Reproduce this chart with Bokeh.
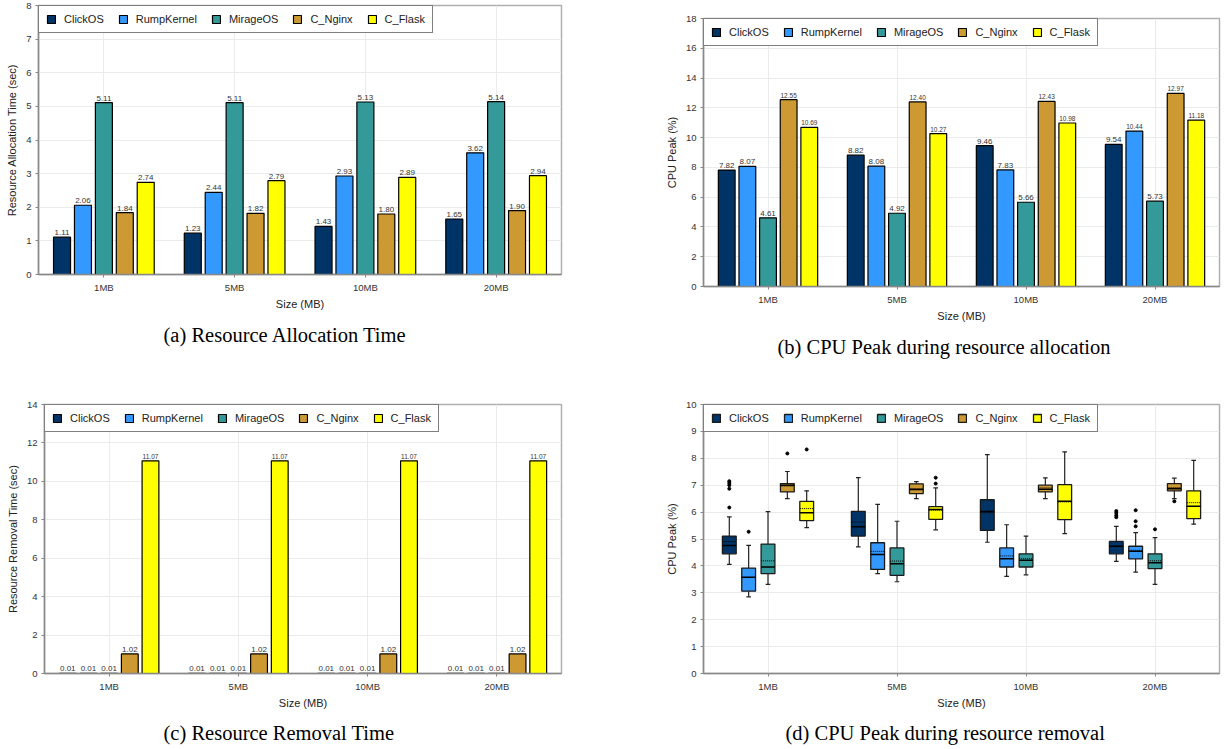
from bokeh.plotting import figure
from bokeh.models import ColumnDataSource, Legend, LegendItem, Title, FixedTicker
from bokeh.transform import dodge
from bokeh.layouts import row, column
from bokeh.embed import file_html
from bokeh.resources import INLINE
from bokeh.core.properties import value

FONT = "Liberation Sans"
SERIF = "Liberation Serif"

sizes = ["1MB", "5MB", "10MB", "20MB"]
systems = ["ClickOS", "RumpKernel", "MirageOS", "C_Nginx", "C_Flask"]
colors = ["#003366", "#3399ff", "#339999", "#cc9933", "#ffff00"]

# (a) Resource allocation time (sec)
alloc_clickos = [1.11, 1.23, 1.43, 1.65]
alloc_rump = [2.06, 2.44, 2.93, 3.62]
alloc_mirage = [5.11, 5.11, 5.13, 5.14]
alloc_nginx = [1.84, 1.82, 1.80, 1.90]
alloc_flask = [2.74, 2.79, 2.89, 2.94]

# (b) CPU peak during resource allocation (%)
cpu_alloc_clickos = [7.82, 8.82, 9.46, 9.54]
cpu_alloc_rump = [8.07, 8.08, 7.83, 10.44]
cpu_alloc_mirage = [4.61, 4.92, 5.66, 5.73]
cpu_alloc_nginx = [12.55, 12.40, 12.43, 12.97]
cpu_alloc_flask = [10.69, 10.27, 10.98, 11.18]

# (c) Resource removal time (sec)
rem_clickos = [0.01, 0.01, 0.01, 0.01]
rem_rump = [0.01, 0.01, 0.01, 0.01]
rem_mirage = [0.01, 0.01, 0.01, 0.01]
rem_nginx = [1.02, 1.02, 1.02, 1.02]
rem_flask = [11.07, 11.07, 11.07, 11.07]

# (d) CPU peak during resource removal (%) - box statistics
# rows: ClickOS, RumpKernel, MirageOS, C_Nginx, C_Flask ; columns: 1MB, 5MB, 10MB, 20MB
box_low = [[4.06, 4.71, 4.88, 4.17], [2.85, 3.71, 3.61, 3.77], [3.31, 3.41, 3.67, 3.31],
           [6.50, 6.50, 6.50, 6.50], [5.42, 5.34, 5.20, 5.55]]
box_q1 = [[4.45, 5.11, 5.32, 4.45], [3.06, 3.87, 3.96, 4.26], [3.71, 3.65, 3.96, 3.90],
          [6.75, 6.69, 6.75, 6.79], [5.68, 5.73, 5.72, 5.76]]
box_med = [[4.76, 5.46, 6.02, 4.73], [3.58, 4.42, 4.27, 4.54], [3.96, 4.08, 4.21, 4.12],
           [7.00, 6.84, 6.85, 6.87], [5.98, 6.10, 6.40, 6.22]]
box_mean = [[4.90, 5.63, 5.98, 4.72], [3.57, 4.54, 4.37, 4.58], [4.19, 4.18, 4.27, 4.19],
            [6.97, 6.87, 6.90, 6.91], [6.13, 6.07, 6.38, 6.35]]
box_q3 = [[5.11, 6.03, 6.46, 4.91], [3.92, 4.86, 4.67, 4.73], [4.81, 4.67, 4.45, 4.45],
          [7.06, 7.05, 7.00, 7.06], [6.40, 6.20, 7.02, 6.79]]
box_high = [[5.82, 7.28, 8.14, 5.47], [4.76, 6.29, 5.53, 5.24], [6.02, 5.66, 5.11, 5.05],
            [7.51, 7.13, 7.27, 7.26], [6.79, 6.90, 8.24, 7.92]]
box_outliers = [
    [[6.17, 6.87, 7.00, 7.08, 7.15], [], [], [5.81, 5.88, 5.97, 6.04]],
    [[5.27], [], [], [5.47, 5.66, 6.07]],
    [[], [], [], [5.36]],
    [[8.18], [], [], [6.40]],
    [[8.33], [7.06, 7.28], [], []],
]

captions = ["(a) Resource Allocation Time", "(b) CPU Peak during resource allocation",
            "(c) Resource Removal Time", "(d) CPU Peak during resource removal"]

STEP = 0.16
OFFS = [(i - 2) * STEP for i in range(5)]


def make_fig(ymax, ystep, ylabel, left, frame_w, top, frame_h, width, height, caption,
             cap_offset, cap_standoff):
    p = figure(x_range=sizes, y_range=(0, ymax), frame_width=frame_w, frame_height=frame_h,
               min_border_left=left, min_border_right=width - left - frame_w,
               min_border_top=top, min_border_bottom=height - top - frame_h,
               title=None, output_backend="svg", toolbar_location=None)
    p.background_fill_color = "white"
    p.border_fill_color = "white"
    p.outline_line_color = "#b0b0b0"
    p.outline_line_width = 1.5
    p.grid.grid_line_color = "#ebebeb"
    p.grid.grid_line_width = 1
    p.yaxis.ticker = FixedTicker(ticks=list(range(0, ymax + 1, ystep)))
    for ax in (p.xaxis[0], p.yaxis[0]):
        ax.axis_line_color = "#888888"
        ax.axis_line_width = 1.5
        ax.major_tick_line_color = "#888888"
        ax.major_tick_out = 3
        ax.major_tick_in = 0
        ax.minor_tick_line_color = None
        ax.major_label_text_font = FONT
        ax.major_label_text_font_size = "9.5px"
        ax.major_label_text_color = "#333333"
        ax.axis_label_text_font = FONT
        ax.axis_label_text_font_size = "11px"
        ax.axis_label_text_font_style = "normal"
        ax.axis_label_text_color = "#222222"
        ax.major_label_standoff = 4
    p.xaxis.axis_label_standoff = 2
    p.yaxis.axis_label_standoff = 5
    p.xaxis.axis_label = "Size (MB)"
    p.yaxis.axis_label = ylabel
    p.add_layout(Title(text=caption, align="left", offset=cap_offset, text_font=SERIF,
                       text_font_size="20.5px", text_font_style="normal", text_color="black",
                       standoff=cap_standoff), "below")
    return p


def add_legend(p, renderers):
    items = [LegendItem(label=s, renderers=[r]) for s, r in zip(systems, renderers)]
    lg = Legend(items=items, location="top_left", orientation="horizontal", margin=0,
                padding=7, spacing=14, label_standoff=8, glyph_width=10, glyph_height=10,
                label_height=11, label_text_font=FONT, label_text_font_size="11px",
                label_text_color="#222222", border_line_color="black", border_line_width=1.5,
                background_fill_color="white", background_fill_alpha=1)
    p.add_layout(lg)


def bar_chart(p, series):
    rends = []
    for i, vals in enumerate(series):
        labels = ["%.2f" % v for v in vals]
        fs = ["6.5px" if v >= 10 else "8px" for v in vals]
        src = ColumnDataSource(dict(size=sizes, val=vals, lbl=labels, fs=fs))
        r = p.vbar(x=dodge("size", OFFS[i], range=p.x_range), top="val", bottom=0, width=0.13,
                   source=src, fill_color=colors[i], line_color="black", line_width=1.2)
        p.text(x=dodge("size", OFFS[i], range=p.x_range), y="val", text="lbl", source=src,
               text_align="center", text_baseline="bottom", y_offset=-2,
               text_font=value(FONT), text_font_size="fs", text_color="#333333")
        rends.append(r)
    add_legend(p, rends)


def box_chart(p):
    rends = []
    bw = 0.107
    cw = 0.018
    step = 0.15
    for i in range(5):
        off = (i - 2) * step
        src = ColumnDataSource(dict(size=sizes, lo=box_low[i], q1=box_q1[i], med=box_med[i],
                                    mean=box_mean[i], q3=box_q3[i], hi=box_high[i]))
        xc = dodge("size", off, range=p.x_range)
        xl = dodge("size", off - bw / 2, range=p.x_range)
        xr = dodge("size", off + bw / 2, range=p.x_range)
        cl = dodge("size", off - cw, range=p.x_range)
        cr = dodge("size", off + cw, range=p.x_range)
        p.segment(x0=xc, y0="q3", x1=xc, y1="hi", source=src, line_color="#222222", line_width=1.2)
        p.segment(x0=xc, y0="q1", x1=xc, y1="lo", source=src, line_color="#222222", line_width=1.2)
        p.segment(x0=cl, y0="hi", x1=cr, y1="hi", source=src, line_color="#222222", line_width=1.2)
        p.segment(x0=cl, y0="lo", x1=cr, y1="lo", source=src, line_color="#222222", line_width=1.2)
        r = p.vbar(x=xc, top="q3", bottom="q1", width=bw, source=src, fill_color=colors[i],
                   line_color="#1a1a1a", line_width=1.3)
        p.segment(x0=xl, y0="med", x1=xr, y1="med", source=src, line_color="black", line_width=1.5)
        p.segment(x0=xl, y0="mean", x1=xr, y1="mean", source=src, line_color="black",
                  line_width=1, line_dash="1 1")
        ox, oy = [], []
        for s, outs in zip(sizes, box_outliers[i]):
            for v in outs:
                ox.append(s)
                oy.append(v)
        osrc = ColumnDataSource(dict(size=ox, v=oy))
        p.scatter(x=dodge("size", off, range=p.x_range), y="v", source=osrc, size=3,
                  fill_color="black", line_color="black")
        rends.append(r)
    add_legend(p, rends)


pa = make_fig(8, 1, "Resource Allocation Time (sec)", 38, 523, 5, 269, 612, 372,
              captions[0], 125, 19)
bar_chart(pa, [alloc_clickos, alloc_rump, alloc_mirage, alloc_nginx, alloc_flask])

pb = make_fig(18, 2, "CPU Peak (%)", 91, 516, 18, 268, 612, 372, captions[1], 74, 18)
bar_chart(pb, [cpu_alloc_clickos, cpu_alloc_rump, cpu_alloc_mirage, cpu_alloc_nginx, cpu_alloc_flask])

pc = make_fig(14, 2, "Resource Removal Time (sec)", 44, 517, 32, 269, 612, 377,
              captions[2], 119, 17)
bar_chart(pc, [rem_clickos, rem_rump, rem_mirage, rem_nginx, rem_flask])

pd_ = make_fig(10, 1, "CPU Peak (%)", 91, 516, 32, 269, 612, 377, captions[3], 82, 17)
box_chart(pd_)

layout = column(row(column(pa), column(pb)), row(column(pc), column(pd_)))
open("out.html", "w").write(file_html(layout, INLINE))
